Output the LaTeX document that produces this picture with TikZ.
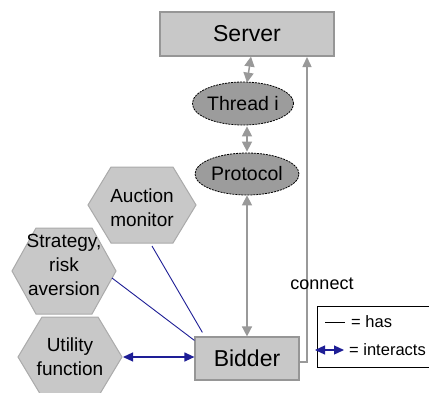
\documentclass[tikz,border=0pt]{standalone}
\usepackage{fontspec}
\setmainfont{Liberation Sans}
\usetikzlibrary{shapes.geometric,arrows.meta}
\definecolor{boxfill}{HTML}{C8C8C8}
\definecolor{boxline}{HTML}{969696}
\definecolor{ellfill}{HTML}{9C9C9C}
\definecolor{hexline}{HTML}{AAAAAA}
\definecolor{arrgray}{HTML}{999999}
\definecolor{navy}{HTML}{1E1E96}
\tikzset{
  rectbox/.style={draw=boxline, line width=1.2pt, fill=boxfill, inner sep=0pt, font=\fontsize{23}{26}\selectfont},
  ellbox/.style={ellipse, draw=black, dashed, dash pattern=on 2pt off 1pt, line width=0.8pt, fill=ellfill, inner sep=0pt, font=\fontsize{19.5}{22}\selectfont},
  hexshape/.style={draw=hexline, line width=1pt, fill=boxfill},
  hextext/.style={align=center, inner sep=0pt, font=\fontsize{19}{24}\selectfont},
  tip/.style={Triangle[width=10pt,length=10pt]},
  grayarrow/.style={draw=arrgray, line width=1.5pt, {Triangle[width=10pt,length=10pt]}-{Triangle[width=10pt,length=10pt]}},
  grayline/.style={draw=arrgray, line width=1.5pt},
  hasline/.style={draw=navy, line width=0.9pt},
  interline/.style={draw=navy, line width=1.2pt, {Triangle[width=9pt,length=10pt]}-{Triangle[width=9pt,length=10pt]}},
  lbl/.style={inner sep=0pt, font=\fontsize{18}{20}\selectfont},
  legtext/.style={inner sep=0pt, anchor=west, font=\fontsize{16.5}{19}\selectfont}
}
\newcommand\hexa[5]{\draw[hexshape] (#1-#3,#2) -- (#1-#3+#5,#2-#4) -- (#1+#3-#5,#2-#4) -- (#1+#3,#2) -- (#1+#3-#5,#2+#4) -- (#1-#3+#5,#2+#4) -- cycle;}
\begin{document}
\begin{tikzpicture}[x=1pt,y=-1pt]
\useasboundingbox (0,0) rectangle (429,392);
\fill[white] (0,0) rectangle (429,392);

% main boxes
\node[rectbox, minimum width=174pt, minimum height=44pt] (server) at (247,34) {Server};
\node[rectbox, minimum width=104pt, minimum height=43pt] (bidder) at (247,358.5) {Bidder};
\node[ellbox, minimum width=95pt, minimum height=43pt] (thread) at (243,103.5) {Thread i};
\node[ellbox, minimum width=104pt, minimum height=42pt] (protocol) at (247,174) {Protocol};

% hexagons
\hexa{142}{205}{54}{38}{23}
\hexa{64}{271}{52}{43}{24}
\hexa{70}{357}{52}{40}{24}
\node[hextext] (auction) at (142,208) {Auction\\monitor};
\node[hextext] (strategy) at (64,265) {Strategy,\\risk\\aversion};
\node[hextext] (utility) at (70,357) {Utility\\function};
\coordinate (auction-s) at (152,246);
\coordinate (strategy-e) at (112,278);
\coordinate (utility-e) at (123,357);

% gray connectors
\draw[grayarrow] ([xshift=4pt]server.south) -- ([xshift=4pt,yshift=-1pt]thread.north);
\draw[grayarrow] ([xshift=4pt,yshift=-1pt]thread.south) -- ([yshift=1pt]protocol.north);
\draw[grayarrow] (protocol.south) -- (bidder.north);
\coordinate (corner) at (307,362);
\coordinate (servin) at (307,57);
\draw[grayline, -{Triangle[width=9pt,length=10pt]}] (bidder.east |- corner) -- (corner) -- (servin);
\node[lbl] (connect) at (322,284) {connect};

% blue connectors
\draw[hasline] (auction-s) -- ([xshift=8pt,yshift=4pt]bidder.north west);
\draw[hasline] (strategy-e) -- ([yshift=-4pt]bidder.north west);
\draw[interline] (utility-e) -- (bidder.west |- utility-e);

% legend
\node[draw=black, line width=1.3pt, minimum width=120pt, minimum height=61pt, anchor=north west, inner sep=0pt] (legend) at (317,306) {};
\coordinate (h1) at (325,322);
\coordinate (h2) at (345,322);
\draw[draw=black, line width=1pt] (h1) -- (h2);
\node[legtext] (has) at (351,322) {= has};
\coordinate (i1) at (315,350);
\coordinate (i2) at (344,350);
\draw[interline] (i1) -- (i2);
\node[legtext] (inter) at (349,350) {= interacts};
\end{tikzpicture}
\end{document}
